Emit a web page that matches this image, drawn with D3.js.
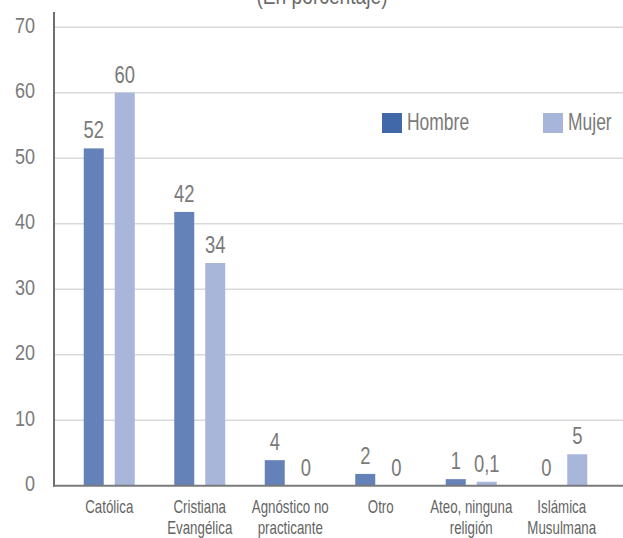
<!DOCTYPE html>
<html>
<head>
<meta charset="utf-8">
<script src="https://cdn.jsdelivr.net/npm/d3@7"></script>
<style>
  html, body { margin: 0; padding: 0; background: #fff; }
  svg { display: block; }
  text { font-family: "Liberation Sans Narrow", "Arial Narrow", "Liberation Sans", Arial, sans-serif; }
</style>
</head>
<body>
<svg id="chart" width="623" height="538"></svg>
<script>
const title = "(En porcentaje)";
const categories = [
  ["Católica"],
  ["Cristiana", "Evangélica"],
  ["Agnóstico no", "practicante"],
  ["Otro"],
  ["Ateo, ninguna", "religión"],
  ["Islámica", "Musulmana"]
];
const seriesNames = ["Hombre", "Mujer"];
const hombre = [51.5, 41.8, 3.9, 1.8, 1.0, 0];
const mujer = [60, 34, 0, 0, 0.6, 4.8];
const hombreLabels = ["52", "42", "4", "2", "1", "0"];
const mujerLabels = ["60", "34", "0", "0", "0,1", "5"];
const yTicks = [0, 10, 20, 30, 40, 50, 60, 70];

const colors = { Hombre: "#6582b8", Mujer: "#a8b6d9" };
const legendColors = { Hombre: "#4169a9", Mujer: "#a6b5d9" };
const SX = 0.8; // horizontal condensing to mimic a narrow typeface

const svg = d3.select("#chart");
const catKeys = categories.map((c, i) => i);

const x0 = d3.scaleBand().domain(catKeys).range([64, 607]).paddingInner(0).paddingOuter(0);
const groupW = 51;
const x1 = d3.scaleBand().domain(seriesNames)
  .range([x0.bandwidth() / 2 - groupW / 2, x0.bandwidth() / 2 + groupW / 2])
  .paddingInner(0.3548).paddingOuter(0);
const y = d3.scaleLinear().domain([0, 70]).range([485.7, 27.2]);

function narrow(sel, px, py, sx) {
  const s = sx || SX;
  return sel.attr("x", 0).attr("y", 0)
    .attr("transform", (d, i, n) => `translate(${px(d, i, n)},${py(d, i, n)}) scale(${s},1)`);
}

// gridlines
svg.append("g").selectAll("line").data(yTicks.filter(d => d > 0)).join("line")
  .attr("x1", 54).attr("x2", 623)
  .attr("y1", d => y(d)).attr("y2", d => y(d))
  .attr("stroke", "#d9d9d9").attr("stroke-width", 1.5);

// y axis labels
const yAxis = d3.axisLeft(y).tickValues(yTicks).tickSize(0).tickPadding(0).tickFormat(d3.format("d"));
const gy = svg.append("g").attr("transform", "translate(35,0)").call(yAxis);
gy.select(".domain").remove();
gy.selectAll("text").attr("font-size", 22.5).attr("fill", "#7a7a7a")
  .attr("font-family", null)
  .attr("x", 0).attr("dy", "0.22em")
  .attr("transform", `scale(${SX},1)`);

// bars
const rows = catKeys.map(i => ({
  i,
  vals: [
    { s: "Hombre", v: hombre[i], lab: hombreLabels[i] },
    { s: "Mujer", v: mujer[i], lab: mujerLabels[i] }
  ]
}));
const g = svg.append("g").selectAll("g").data(rows).join("g")
  .attr("transform", d => `translate(${x0(d.i)},0)`);
g.selectAll("rect").data(d => d.vals).join("rect")
  .attr("x", d => x1(d.s)).attr("width", x1.bandwidth())
  .attr("y", d => y(d.v)).attr("height", d => y(0) - y(d.v))
  .attr("fill", d => colors[d.s]);
narrow(g.selectAll("text").data(d => d.vals).join("text"),
    d => x1(d.s) + x1.bandwidth() / 2, d => y(d.v) - 10)
  .attr("text-anchor", "middle")
  .attr("font-size", 23).attr("fill", "#7a7a7a")
  .text(d => d.lab);

// axes lines
svg.append("line").attr("x1", 54).attr("x2", 54).attr("y1", 12).attr("y2", y(0) + 1)
  .attr("stroke", "#6e6e6e").attr("stroke-width", 2);
svg.append("line").attr("x1", 53).attr("x2", 623).attr("y1", y(0)).attr("y2", y(0))
  .attr("stroke", "#7a7a7a").attr("stroke-width", 2);

// category labels
const cl = narrow(svg.append("g").selectAll("text").data(rows).join("text"),
    d => x0(d.i) + x0.bandwidth() / 2, () => 513, 0.74)
  .attr("text-anchor", "middle")
  .attr("font-size", 18).attr("fill", "#646464");
cl.selectAll("tspan").data(d => categories[d.i]).join("tspan")
  .attr("x", 0)
  .attr("dy", (d, j) => j === 0 ? 0 : 21)
  .text(d => d);

// legend
const legendPos = { Hombre: 382, Mujer: 543 };
const lg = svg.append("g").selectAll("g").data(seriesNames).join("g")
  .attr("transform", d => `translate(${legendPos[d]},113)`);
lg.append("rect").attr("width", 20).attr("height", 20).attr("fill", d => legendColors[d]);
narrow(lg.append("text"), () => 25, () => 17, 0.76)
  .attr("font-size", 23).attr("fill", "#7a7a7a").text(d => d);

// title (cut off at the top edge as in the reference)
narrow(svg.append("text"), () => 322, () => 4).attr("text-anchor", "middle")
  .attr("font-size", 24).attr("fill", "#6a6a6a").text(title);
</script>
</body>
</html>
